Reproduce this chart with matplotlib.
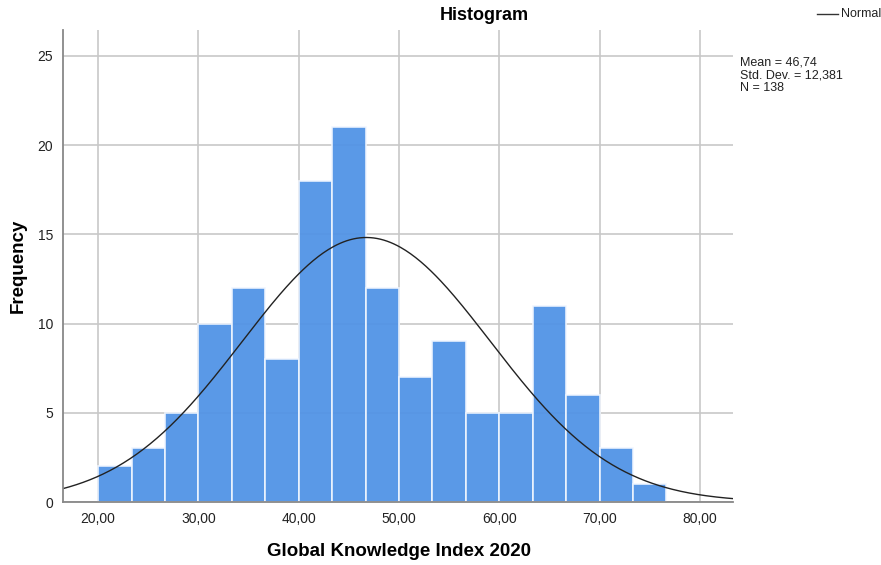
import numpy as np
import matplotlib.pyplot as plt

plt.rcParams["font.family"] = ["Liberation Sans", "DejaVu Sans"]

# histogram bins (width 10/3) and counts per bin
bin_start = 20.0
bin_width = 10.0 / 3.0
counts = [2, 3, 5, 10, 12, 8, 18, 21, 12, 7, 9, 5, 5, 11, 6, 3, 1]
mean = 46.74
std = 12.381
n = 138

xticks = [20, 30, 40, 50, 60, 70, 80]
xtick_labels = ["20,00", "30,00", "40,00", "50,00", "60,00", "70,00", "80,00"]
yticks = [0, 5, 10, 15, 20, 25]


def main():
    fig = plt.figure(figsize=(8.81, 5.65), dpi=100)
    ax = fig.add_axes([63 / 881, 1 - 502 / 565, (733 - 63) / 881, (502 - 30) / 565])

    ax.grid(True, color="#c8c8c8", linewidth=1.2, zorder=1)
    ax.set_axisbelow(True)

    edges = bin_start + bin_width * np.arange(len(counts))
    ax.bar(edges, counts, width=bin_width, align="edge", color="#5093e6",
           alpha=0.94, edgecolor="#f0f6ff", linewidth=1.2, zorder=2)

    # normal curve scaled to counts
    xs = np.linspace(16.5, 83.3, 400)
    ys = n * bin_width / (std * np.sqrt(2 * np.pi)) * np.exp(-0.5 * ((xs - mean) / std) ** 2)
    ax.plot(xs, ys, color="#222222", linewidth=1.0, zorder=4)

    ax.set_xlim(16.5, 83.3)
    ax.set_ylim(0, 26.45)
    ax.set_xticks(xticks)
    ax.set_xticklabels(xtick_labels)
    ax.set_yticks(yticks)
    ax.tick_params(length=0, labelsize=10, colors="#222222", pad=7)
    for s in ["top", "right"]:
        ax.spines[s].set_visible(False)
    for s in ["left", "bottom"]:
        ax.spines[s].set_color("#888888")
        ax.spines[s].set_linewidth(1.3)
        ax.spines[s].set_zorder(5)

    fig.text(484 / 881, 1 - 16 / 565, "Histogram", ha="center", va="center",
             fontsize=13, fontweight="bold")
    fig.text(18 / 881, 1 - 266 / 565, "Frequency", ha="center", va="center",
             rotation=90, fontsize=13.5, fontweight="bold")
    fig.text(399 / 881, 1 - 551 / 565, "Global Knowledge Index 2020", ha="center",
             va="center", fontsize=13.5, fontweight="bold")

    fig.text(740 / 881, 1 - 75 / 565,
             "Mean = 46,74\nStd. Dev. = 12,381\nN = 138",
             ha="left", va="center", fontsize=9, linespacing=1.1, color="#222222")
    fig.lines.append(plt.Line2D([817 / 881, 838 / 881], [1 - 14 / 565, 1 - 14 / 565],
                                transform=fig.transFigure, color="#333333", linewidth=1))
    fig.text(841 / 881, 1 - 14 / 565, "Normal", ha="left", va="center",
             fontsize=9, color="#222222")

    fig.savefig("out.png", dpi=100)


if __name__ == "__main__":
    main()
